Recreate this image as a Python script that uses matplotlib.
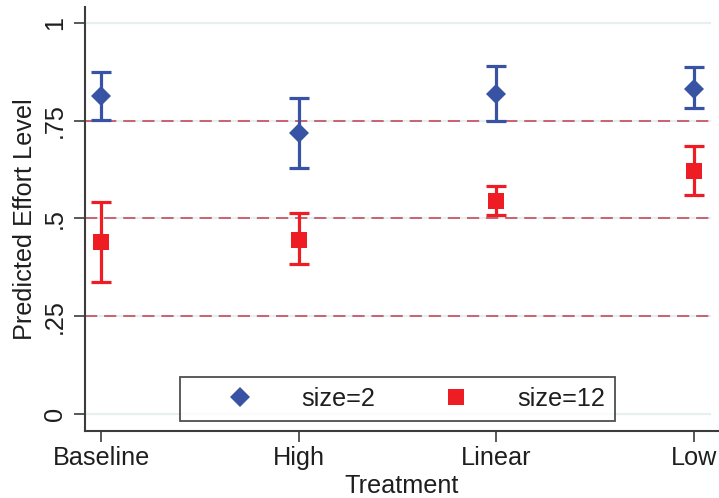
import numpy as np
import matplotlib
matplotlib.use("Agg")
import matplotlib.pyplot as plt

plt.rcParams['font.family'] = ['Liberation Sans', 'DejaVu Sans']

treatments = ["Baseline", "High", "Linear", "Low"]

# size=2 group
mean_s2 = [0.812, 0.719, 0.818, 0.831]
lo_s2 = [0.751, 0.630, 0.748, 0.782]
hi_s2 = [0.874, 0.808, 0.889, 0.887]

# size=12 group
mean_s12 = [0.439, 0.446, 0.544, 0.622]
lo_s12 = [0.338, 0.384, 0.508, 0.559]
hi_s12 = [0.541, 0.514, 0.582, 0.686]

yticks = [0, 0.25, 0.5, 0.75, 1]
ytick_labels = ["0", ".25", ".5", ".75", "1"]
ref_lines = [0.25, 0.5, 0.75]

blue = "#3953A4"
red = "#EE1D23"
dash_col = "#C23B4E"
grid_col = "#E6F0F1"
axis_col = "#3C3C3C"
txt_col = "#1E1E1E"
fs = 18.2

x = np.arange(1, len(treatments) + 1)

fig = plt.figure(figsize=(7.19, 4.98), dpi=100)
ax = fig.add_axes([85 / 719, 67 / 498, 634 / 719, 424 / 498])

for yv in yticks:
    ax.axhline(yv, xmax=0.986, color=grid_col, lw=1.6, zorder=0)
for yv in ref_lines:
    ax.axhline(yv, xmax=0.986, color=dash_col, lw=1.1, dashes=(8, 4.5), zorder=1)


def draw_group(mean, lo, hi, color, marker, ms, label):
    mean = np.array(mean)
    err = np.vstack([mean - np.array(lo), np.array(hi) - mean])
    ax.errorbar(x, mean, yerr=err, fmt="none", ecolor=color, elinewidth=2.3,
                capsize=7.5, capthick=2.3, zorder=3)
    ax.plot(x, mean, linestyle="none", marker=marker, markersize=ms,
            color=color, markeredgewidth=0, label=label, zorder=4)


draw_group(mean_s2, lo_s2, hi_s2, blue, "D", 10, "size=2")
draw_group(mean_s12, lo_s12, hi_s12, red, "s", 11, "size=12")

ax.set_xlim(0.919, 4.126)
ax.set_ylim(-0.044, 1.041)

ax.set_xticks(x)
ax.set_xticklabels(treatments, fontsize=fs, color=txt_col)
ax.set_yticks(yticks)
ax.set_yticklabels(ytick_labels, fontsize=fs, rotation=90, va="center",
                   color=txt_col)
ax.tick_params(axis="both", direction="out", length=8, width=1.2,
               color=axis_col)
ax.tick_params(axis="y", pad=5)
ax.tick_params(axis="x", pad=3)

ax.set_xlabel("Treatment", fontsize=fs, color=txt_col, labelpad=3)
ax.set_ylabel("Predicted Effort Level", fontsize=fs, color=txt_col,
              labelpad=4)

for side in ["top", "right"]:
    ax.spines[side].set_visible(False)
for side in ["left", "bottom"]:
    ax.spines[side].set_color(axis_col)
    ax.spines[side].set_linewidth(1.5)

leg = ax.legend(loc="lower center", bbox_to_anchor=(0.493, 0.024), ncol=2,
                fontsize=fs, frameon=True, fancybox=False, borderaxespad=0,
                borderpad=0.4, handlelength=3.95, handletextpad=0.45,
                columnspacing=1.2)
leg.get_frame().set_edgecolor("#222222")
leg.get_frame().set_linewidth(1.3)
for t in leg.get_texts():
    t.set_color(txt_col)

fig.savefig("out.png", dpi=100, facecolor="white")
